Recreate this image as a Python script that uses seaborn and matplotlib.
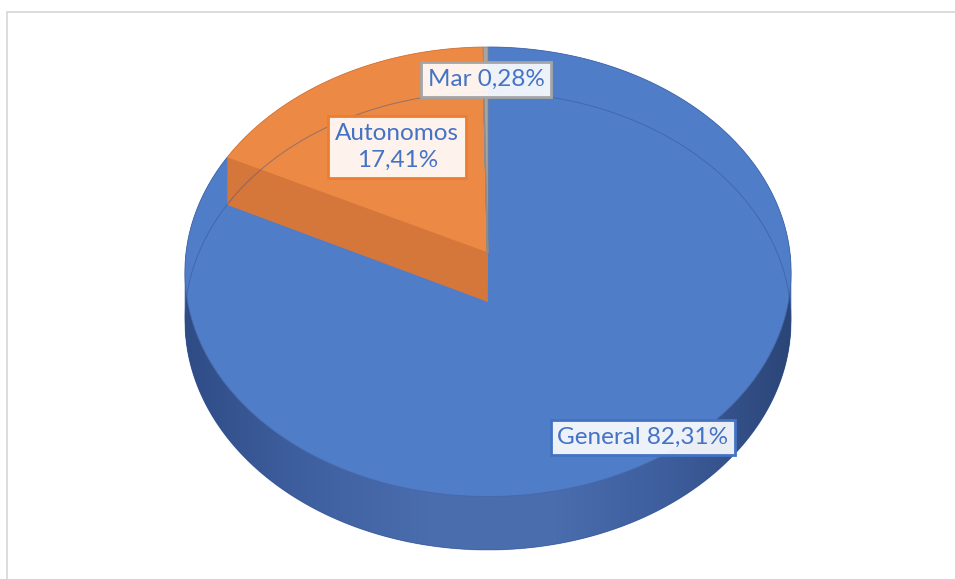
import numpy as np
import matplotlib
matplotlib.use('Agg')
import matplotlib.pyplot as plt
import seaborn as sns
from matplotlib.patches import Circle, Rectangle, PathPatch
from matplotlib.path import Path
from matplotlib.transforms import Transform
from matplotlib.colors import LinearSegmentedColormap

# data
categories = ['General', 'Autonomos', 'Mar']
shares = [82.31, 17.41, 0.28]
label_texts = ['General 82,31%', 'Autonomos\n17,41%', 'Mar 0,28%']

sns.set_theme(style='white')
plt.rcParams['font.family'] = ['Lato', 'DejaVu Sans']

top_colors = ['#507DC7', '#EC8944', '#A5A5A5']
side_colors = ['#4669AB', '#D5763B', '#8C8C8C']
edge_colors = ['#4472C4', '#ED7D31', '#A5A5A5']
text_color = '#4472C4'

# view of the tilted pie (pixel units)
cx, cy = 488, 253      # centre of the top face
R, C = 302, 223.2      # horizontal radius, vertical radius before perspective
K = 0.0835             # perspective strength (back is farther away)
DEPTH = 49             # thickness of the pie


class Tilt(Transform):
    """Map the unit pie onto a tilted, perspective disc at height z."""
    input_dims = output_dims = 2
    is_separable = False
    has_inverse = False

    def __init__(self, z=0.0):
        super().__init__()
        self.z = z

    def transform_non_affine(self, values):
        v = np.asarray(values, float)
        x, y = v[:, 0], v[:, 1]
        w = 1 + K * y
        return np.c_[cx + R * x / w, cy - (C * y + self.z) / w]

    def transform_path_non_affine(self, path):
        pts = []
        t = np.linspace(0, 1, 40)
        for bez, code in path.iter_bezier():
            if code == Path.MOVETO:
                pts.append(bez.control_points[-1][None, :])
            else:
                pts.append(bez(t)[1:])
        pts = np.concatenate(pts)
        return Path(self.transform_non_affine(pts))


fig = plt.figure(figsize=(9.55, 5.79), dpi=100)
ax = fig.add_axes([0, 0, 1, 1])

n_layers = 50


def draw_wedge(i, z, color, zorder, lw=0, ec='none'):
    cols = ['none'] * len(shares)
    cols[i] = color
    wedges, _ = ax.pie(shares, colors=cols, startangle=90, counterclock=False,
                       radius=1,
                       wedgeprops=dict(linewidth=lw, edgecolor=ec, zorder=zorder))
    for j, w in enumerate(wedges):
        if j != i:
            w.set_visible(False)
    wedges[i].set_transform(Tilt(z) + ax.transData)
    return wedges[i]


zo = 1
for i in range(len(shares)):
    # extruded side of the slice
    for z in np.linspace(-DEPTH, 0, n_layers):
        draw_wedge(i, z, side_colors[i], zo)
    if i == 0:
        # cylindrical shading of the front rim
        t = np.linspace(np.pi, 2 * np.pi, 300)
        arc = np.c_[np.cos(t), np.sin(t)]
        verts = np.concatenate([Tilt(0).transform(arc),
                                Tilt(-DEPTH).transform(arc[::-1])])
        clip = PathPatch(Path(verts, closed=True), transform=ax.transData,
                         fc='none', ec='none')
        ax.add_patch(clip)
        shade = LinearSegmentedColormap.from_list(
            'rim', ['#2F4C86', '#3F60A0', '#4A6DAE', '#4B6EAF', '#3D5D9C', '#2B4577'])
        grad = np.linspace(0, 1, 256).reshape(1, -1)
        x0, x1 = verts[:, 0].min(), verts[:, 0].max()
        y0, y1 = verts[:, 1].min(), verts[:, 1].max()
        im = ax.imshow(grad, cmap=shade, extent=(x0, x1, y1, y0),
                       aspect='auto', zorder=zo + 0.5)
        im.set_clip_path(clip)
    draw_wedge(i, 0, top_colors[i], zo + 1, lw=0.6, ec=side_colors[i])
    zo += 2

# faint hidden bottom rim seen through the top face
ax.add_patch(Circle((0, 0), 1, fill=False, ec='#2F4F8F', lw=0.7, alpha=0.45,
                    zorder=zo, transform=Tilt(-DEPTH) + ax.transData))

# data labels
label_r = [0.91, 0.585, 0.83]
cum = np.concatenate([[0], np.cumsum(shares)])
total = sum(shares)
for i, txt in enumerate(label_texts):
    mid = np.radians(90 - 360 * (cum[i] + shares[i] / 2) / total)
    px, py = Tilt(0).transform([[label_r[i] * np.cos(mid), label_r[i] * np.sin(mid)]])[0]
    ax.text(px, py, txt, ha='center', va='center', color=text_color, fontsize=17.5,
            linespacing=1.35, zorder=zo + 2,
            bbox=dict(boxstyle='square,pad=0.28', fc=(1, 1, 1, 0.9),
                      ec=edge_colors[i], lw=2))

ax.set_aspect('auto')
ax.set_xlim(0, 955)
ax.set_ylim(579, 0)
ax.axis('off')

# chart area border
fig.add_artist(Rectangle((7 / 955, -0.05), 1.2, (579 - 12) / 579 + 0.05,
                         transform=fig.transFigure, fill=False, ec='#D9D9D9',
                         lw=1.3, clip_on=False))

fig.savefig('out.png', dpi=100)
